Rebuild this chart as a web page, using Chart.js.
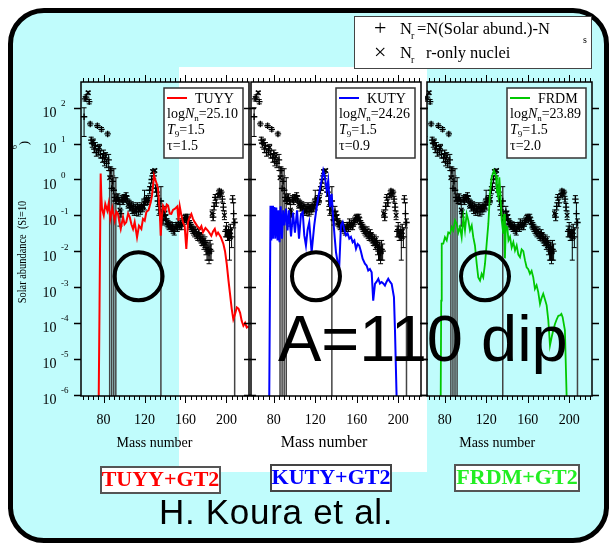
<!DOCTYPE html>
<html>
<head>
<meta charset="utf-8">
<title>Solar r-process abundances and r-process calculations</title>
<script src="https://cdn.jsdelivr.net/npm/chart.js@4.4.1/dist/chart.umd.min.js"></script>
<style>
  html, body { margin: 0; padding: 0; background: #fff; }
  #stage { position: relative; width: 609px; height: 544px; overflow: hidden; background: #fff; }
  #frame { position: absolute; left: 8px; top: 8px; width: 601px; height: 535px; box-sizing: border-box;
           border: 5px solid #000; border-radius: 36px; background: #c0fcfc; }
  #sheet { position: absolute; left: 179px; top: 67px; width: 248px; height: 405px; background: #fff; }
  #stage canvas { position: absolute; left: 0; top: 0; }
  #overlay { position: absolute; left: 0; top: 0; width: 609px; height: 544px; }
  .txt { position: absolute; white-space: nowrap; }
  .box { position: absolute; box-sizing: border-box; background: #fff; }
</style>
</head>
<body>
<div id="stage">
  <div id="frame"></div>
  <div id="sheet"></div>
  <canvas id="p1" width="609" height="544"></canvas>
  <canvas id="p2" width="609" height="544"></canvas>
  <canvas id="p3" width="609" height="544"></canvas>
  <div id="overlay"></div>
</div>
<script>
// ---- solar r-process residuals (Si = 10^6), log10 values with error bars in dex ----
const massNumbers = [61, 62, 63, 65, 66, 67, 68, 69, 70, 71,
  72, 73, 74, 75, 76, 77, 78, 79, 80, 81,
  82, 83, 84, 85, 86, 87, 88, 89, 90, 91,
  92, 93, 94, 95, 96, 97, 98, 99, 100, 101,
  102, 103, 104, 105, 106, 107, 108, 109, 110, 111,
  112, 113, 114, 115, 116, 117, 118, 119, 120, 121,
  122, 123, 124, 125, 126, 127, 128, 129, 130, 131,
  132, 133, 134, 135, 136, 137, 138, 139, 140, 141,
  142, 143, 144, 145, 146, 147, 148, 149, 150, 151,
  152, 153, 154, 155, 156, 157, 158, 159, 160, 161,
  162, 163, 164, 165, 166, 167, 168, 169, 170, 171,
  172, 173, 174, 175, 176, 177, 178, 179, 180, 181,
  182, 183, 184, 185, 186, 187, 188, 189, 190,
  192, 193, 194, 195, 196, 197, 198, 199, 200, 201,
  202, 203, 204, 205, 206, 207, 208];
const solarLog = [1.75, 2.25, 2.3, 2.42, 2.17, 1.55, 1.1, 1.0, 1.05, 0.85,
  0.95, 0.75, 1.5, 0.8, 0.9, 0.7, 1.4, 0.6, 0.72, 0.5,
  0.65, 0.45, 1.27, 0.55, 0.05, 0.25, -0.25, -0.05, -0.3, -0.5,
  -0.6, -0.55, -0.5, -0.6, -0.85, -0.95, -0.55, -0.6, -0.5, -0.55,
  -0.45, -0.55, -0.7, -0.68, -0.78, -0.72, -0.85, -0.75, -0.9, -0.8,
  -0.88, -0.75, -0.9, -0.8, -0.85, -0.75, -0.8, -0.7, -0.55, -0.62,
  -0.55, -0.6, -0.55, -0.3, -0.2, 0.0, 0.22, 0.1, 0.25, -0.25,
  -0.35, -0.6, -0.85, -0.75, -0.6, -1.0, -1.15, -0.9, -1.0, -1.1,
  -1.2, -1.25, -1.3, -1.28, -1.35, -1.3, -1.4, -1.45, -1.35, -1.3,
  -1.35, -1.2, -1.3, -1.25, -1.3, -1.2, -1.15, -1.1, -1.05, -1.1,
  -1.05, -1.15, -1.25, -1.3, -1.35, -1.4, -1.45, -1.5, -1.42, -1.55,
  -1.6, -1.5, -1.6, -1.65, -1.72, -1.7, -1.8, -1.75, -1.9, -2.0,
  -1.95, -2.05, -1.95, -2.0, -0.95, -1.05, -0.75, -0.5, -0.65,
  -0.45, -0.32, -0.4, -0.35, -0.55, -0.77, -1.0, -1.45, -1.4, -1.55,
  -1.5, -1.6, -1.45, -1.6, -0.55, -0.95, -1.2];
// lower error in dex; null = lower bound reaches zero (bar runs off the axis)
const errDown = [0.55, 0.06, 0.06, 0.04, 0.06, 0.05, 0.08, 0.1, 0.08, 0.1,
  0.08, 0.1, 0.05, 0.12, 0.08, 0.1, 0.05, 0.12, 0.1, 0.12,
  0.1, 0.12, 0.05, 0.3, null, 0.15, null, 0.2, null, 0.1,
  null, 0.12, 0.1, 0.1, 0.45, 0.1, 0.1, 0.1, 0.08, 0.08,
  0.08, 0.08, 0.1, 0.1, 0.1, 0.1, 0.1, 0.1, 0.1, 0.1,
  0.12, 0.1, 0.12, 0.1, 0.12, 0.1, 0.1, 0.1, 0.3, 0.1,
  0.1, 0.1, 0.1, 0.1, 0.1, 0.1, 0.05, 0.08, 0.04, 0.1,
  0.12, 0.15, 0.15, 0.2, null, 0.12, 0.12, 0.15, 0.12, 0.12,
  0.1, 0.1, 0.1, 0.1, 0.1, 0.1, 0.1, 0.1, 0.1, 0.1,
  0.1, 0.1, 0.1, 0.1, 0.1, 0.1, 0.1, 0.1, 0.08, 0.08,
  0.08, 0.08, 0.1, 0.1, 0.1, 0.1, 0.1, 0.1, 0.1, 0.1,
  0.1, 0.1, 0.12, 0.12, 0.12, 0.15, 0.15, 0.15, 0.2, 0.25,
  0.3, 0.3, 0.3, 0.25, 0.1, 0.1, 0.1, 0.08, 0.1,
  0.06, 0.05, 0.05, 0.05, 0.08, 0.1, 0.12, 0.15, 0.2, 0.15,
  0.2, 0.65, 0.2, 0.3, 0.1, 0.4, null];
const errUp = [0.25, 0.06, 0.06, 0.04, 0.06, 0.05, 0.08, 0.1, 0.08, 0.1,
  0.08, 0.1, 0.05, 0.12, 0.08, 0.1, 0.05, 0.12, 0.1, 0.12,
  0.1, 0.12, 0.05, 0.15, 0.3, 0.1, 0.55, 0.15, 0.6, 0.1,
  0.65, 0.12, 0.1, 0.1, 0.3, 0.1, 0.1, 0.1, 0.08, 0.08,
  0.08, 0.08, 0.1, 0.1, 0.1, 0.1, 0.1, 0.1, 0.1, 0.1,
  0.12, 0.1, 0.12, 0.1, 0.12, 0.1, 0.1, 0.1, 0.25, 0.1,
  0.1, 0.1, 0.1, 0.1, 0.1, 0.1, 0.05, 0.08, 0.04, 0.1,
  0.12, 0.15, 0.15, 0.15, 0.4, 0.12, 0.12, 0.15, 0.12, 0.12,
  0.1, 0.1, 0.1, 0.1, 0.1, 0.1, 0.1, 0.1, 0.1, 0.1,
  0.1, 0.1, 0.1, 0.1, 0.1, 0.1, 0.1, 0.1, 0.08, 0.08,
  0.08, 0.08, 0.1, 0.1, 0.1, 0.1, 0.1, 0.1, 0.1, 0.1,
  0.1, 0.1, 0.12, 0.12, 0.12, 0.15, 0.15, 0.15, 0.2, 0.2,
  0.2, 0.2, 0.25, 0.2, 0.1, 0.1, 0.1, 0.08, 0.1,
  0.06, 0.05, 0.05, 0.05, 0.08, 0.1, 0.12, 0.15, 0.2, 0.15,
  0.2, 0.2, 0.2, 0.25, 0.1, 0.3, 0.1];
// r-only nuclei (plotted with x)
const rOnlyMass = [65, 70, 76, 82, 86, 96, 104, 110, 116, 122, 124, 128, 130, 142, 148, 150, 154, 160, 170, 176, 186, 192, 198, 204];

// ---- r-process calculations (log10 abundance vs mass number) ----
const tuyyA = [75.3, 76.1, 77.2, 77.8, 78.5, 80.2, 81.7, 83.7, 85.0, 86.6,
  88.5, 90.9, 92.5, 94.1, 95.5, 96.8, 99.0, 100.5, 102.2, 104.0,
  105.6, 107.2, 108.8, 110.4, 112.7, 114.6, 116.9, 118.5, 120.2, 121.8,
  124.0, 126.1, 127.3, 129.3, 130.5, 131.9, 133.2, 134.9, 135.8, 137.0,
  138.1, 140.3, 141.7, 143.0, 144.6, 146.2, 147.8, 149.5, 152.0, 153.2,
  154.4, 156.0, 157.6, 159.2, 160.8, 162.5, 164.0, 165.7, 167.3, 169.0,
  171.5, 173.9, 175.5, 177.1, 179.5, 182.0, 183.6, 185.2, 186.9, 188.6,
  190.2, 191.8, 194.4, 197.0, 198.6, 200.3, 201.9, 203.5, 205.1, 206.7,
  208.4, 210.1, 211.7, 213.3, 214.9, 216.5, 218.2, 219.8, 221.5];
const tuyyLog = [-6.1, -3.5, 0.17, -0.45, -0.81, -1.0, -0.68, -0.87, -0.67, -1.09,
  -0.8, -1.15, -0.9, -0.96, -1.2, -1.38, -1.05, -1.25, -1.19, -0.95,
  -1.05, -1.25, -1.38, -1.19, -1.61, -1.29, -1.38, -1.1, -1.15, -0.91,
  -0.85, -0.63, -0.45, 0.11, 0.0, -0.12, -0.26, -0.91, -1.57, -1.0,
  -0.73, -0.87, -0.7, -0.73, -0.95, -0.96, -0.85, -0.82, -0.75, -1.15,
  -0.75, -1.0, -1.2, -1.3, -1.94, -1.19, -1.05, -0.96, -1.1, -1.19,
  -1.3, -1.38, -1.3, -1.47, -1.35, -1.43, -1.5, -1.57, -1.45, -1.38,
  -1.55, -1.48, -1.6, -1.8, -2.0, -2.36, -2.8, -3.2, -3.6, -3.9,
  -3.75, -3.57, -3.6, -3.72, -3.95, -4.08, -4.0, -4.13, -4.1];

const kutyA = [75.6, 76.8, 77.6, 78.3, 79.2, 80.5, 81.4, 82.4, 83.6, 84.5,
  85.5, 86.6, 87.9, 89.1, 90.3, 91.8, 93.2, 94.6, 96.6, 98.5,
  100.4, 102.4, 104.3, 106.2, 107.9, 109.4, 111.0, 112.6, 114.2, 116.5,
  119.0, 120.7, 122.3, 123.9, 126.5, 127.7, 129.4, 131.0, 132.5, 134.2,
  135.8, 137.4, 138.7, 140.0, 141.6, 143.1, 144.8, 146.4, 148.0, 149.6,
  151.2, 152.8, 154.4, 156.1, 157.7, 159.3, 160.9, 162.4, 164.0, 165.7,
  167.9, 169.5, 171.1, 172.7, 174.4, 175.9, 177.6, 179.2, 180.8, 182.4,
  184.0, 185.6, 187.2, 188.8, 190.4, 192.0, 193.7, 195.9, 196.9, 198.5];
const kutyLog = [-6.1, -0.73, -1.7, -0.73, -1.65, -0.77, -1.65, -0.78, -1.7, -0.86,
  -1.75, -0.75, -1.65, -0.86, -1.28, -0.81, -1.42, -0.86, -1.59, -0.92,
  -1.48, -0.86, -1.65, -0.98, -0.91, -1.56, -1.84, -1.4, -1.19, -2.03,
  -1.28, -0.91, -0.6, -0.35, 0.03, 0.25, 0.06, -0.31, -0.03, -0.77,
  -0.4, -1.14, -1.6, -2.03, -2.31, -2.45, -1.28, -1.19, -1.4, -1.56,
  -1.5, -1.65, -1.6, -1.75, -1.7, -1.93, -1.8, -1.84, -2.0, -2.21,
  -2.35, -2.4, -2.54, -2.5, -2.59, -3.38, -2.91, -2.85, -2.77, -2.9,
  -2.86, -2.9, -2.96, -2.85, -2.77, -2.85, -2.91, -3.28, -4.21, -6.1];

const frdmA = [76.2, 76.7, 77.2, 78.7, 80.3, 82.0, 83.5, 85.2, 86.8, 88.3,
  90.0, 91.6, 93.2, 94.8, 96.4, 98.0, 99.6, 101.2, 102.8, 104.4,
  106.1, 107.6, 109.2, 110.9, 112.4, 114.1, 115.7, 117.2, 118.9, 120.5,
  122.1, 123.7, 125.3, 127.5, 129.5, 130.4, 131.7, 132.7, 133.8, 135.0,
  136.5, 137.3, 138.1, 139.0, 140.4, 141.5, 143.0, 144.6, 146.2, 147.8,
  149.4, 151.0, 152.6, 154.2, 155.8, 157.4, 159.0, 160.6, 162.2, 163.8,
  165.4, 167.0, 168.6, 170.2, 171.9, 173.5, 175.0, 176.7, 178.3, 179.9,
  181.5, 183.1, 184.7, 186.3, 188.0, 189.6, 191.1, 192.5, 193.7, 195.9, 197.6];
const frdmLog = [-6.1, -3.38, -1.79, -1.79, -1.61, -1.7, -1.48, -1.51, -1.33, -1.42,
  -1.14, -1.24, -1.48, -1.33, -1.61, -1.05, -1.42, -0.96, -1.14, -1.42,
  -1.28, -1.61, -1.84, -2.35, -2.73, -2.82, -2.63, -2.73, -2.35, -1.79,
  -1.24, -0.4, 0.06, 0.25, 0.11, -0.31, -0.49, 0.06, -0.45, -1.14,
  -1.51, -0.96, -2.2, -1.3, -1.33, -1.7, -1.6, -1.9, -1.75, -1.98,
  -1.84, -2.1, -2.17, -1.95, -2.0, -2.25, -2.45, -2.5, -2.63, -2.55,
  -2.73, -3.05, -2.95, -3.14, -3.47, -3.3, -3.19, -3.35, -3.51, -3.93,
  -4.63, -4.4, -4.2, -4.03, -3.9, -3.8, -3.79, -3.75, -3.84, -4.21, -6.1];

// ---- axes ----
const xTickValues = [80, 120, 160, 200];
const yDecades = [-6, -5, -4, -3, -2, -1, 0, 1, 2];
const yLogMin = -6.04, yLogMax = 2.72;

// ---- per-panel parameters (log Nn, T9, tau) and the A=110 region marker ----
const modelNames = ['TUYY', 'KUTY', 'FRDM'];
const logNn = ['25.10', '24.26', '23.89'];
const T9 = ['1.5', '1.5', '1.5'];
const tau = ['1.5', '0.9', '2.0'];
const dipMarkA = [114.2, 120.7, 118.9];
const dipMarkLog = -2.7;

const SERIF = '"Liberation Serif", "Times New Roman", serif';
const SANS = '"Liberation Sans", Arial, sans-serif';
Chart.defaults.font.family = SERIF;

const panels = [
  { id: 'p1', idx: 0, color: '#ff0000', width: 2, A: tuyyA, log: tuyyLog,
    left: 81, right: 249, xMin: 58, xMax: 222, titleSize: 14, titleShift: 6, axisLabels: true },
  { id: 'p2', idx: 1, color: '#0000ff', width: 2, A: kutyA, log: kutyLog,
    left: 251, right: 421, xMin: 58, xMax: 222, titleSize: 16, titleShift: 6, axisLabels: false },
  { id: 'p3', idx: 2, color: '#00c800', width: 1.8, A: frdmA, log: frdmLog,
    left: 427, right: 592, xMin: 63, xMax: 222, titleSize: 14, titleShift: 7, axisLabels: false }
];

function makeDecor(p) {
  return {
    id: 'decor_' + p.id,
    beforeDatasetsDraw(chart) {
      // error bars of the solar residuals
      const { ctx, chartArea: a, scales: { x, y } } = chart;
      ctx.save();
      ctx.beginPath();
      ctx.rect(a.left, a.top, a.right - a.left, a.bottom - a.top);
      ctx.clip();
      massNumbers.forEach((m, i) => {
        const px = x.getPixelForValue(m);
        const top = y.getPixelForValue(10 ** (solarLog[i] + errUp[i]));
        const open = errDown[i] === null;
        const bot = open ? a.bottom : y.getPixelForValue(10 ** (solarLog[i] - errDown[i]));
        ctx.strokeStyle = open ? '#444' : '#000';
        ctx.lineWidth = open ? 1.5 : 1;
        ctx.beginPath(); ctx.moveTo(px, bot); ctx.lineTo(px, top); ctx.stroke();
        ctx.strokeStyle = '#000'; ctx.lineWidth = 1;
        ctx.beginPath();
        ctx.moveTo(px - 2.5, top); ctx.lineTo(px + 2.5, top);
        if (!open) { ctx.moveTo(px - 2.5, bot); ctx.lineTo(px + 2.5, bot); }
        ctx.stroke();
      });
      ctx.restore();
    },
    afterDatasetsDraw(chart) {
      const { ctx, chartArea: a, scales: { x, y } } = chart;
      ctx.save();
      // frame
      ctx.strokeStyle = '#000'; ctx.lineWidth = 1.5;
      ctx.strokeRect(a.left, a.top, a.right - a.left, a.bottom - a.top);
      // x ticks, top and bottom, pointing outwards
      ctx.lineWidth = 1;
      ctx.beginPath();
      for (let v = Math.ceil(x.min / 5) * 5; v <= x.max; v += 5) {
        const px = Math.round(x.getPixelForValue(v)) + 0.5;
        const len = v % 40 === 0 ? 7 : 4;
        ctx.moveTo(px, a.bottom); ctx.lineTo(px, a.bottom + len);
        ctx.moveTo(px, a.top); ctx.lineTo(px, a.top - len);
      }
      ctx.stroke();
      // y ticks at the decades, both sides
      ctx.lineWidth = 1.5;
      ctx.beginPath();
      yDecades.forEach(k => {
        const py = Math.round(y.getPixelForValue(10 ** k)) + 0.5;
        ctx.moveTo(a.left - 7, py); ctx.lineTo(a.left, py);
        ctx.moveTo(a.right, py); ctx.lineTo(a.right + 7, py);
      });
      ctx.stroke();

      ctx.fillStyle = '#000';
      ctx.textAlign = 'left';
      ctx.textBaseline = 'alphabetic';
      if (p.axisLabels) {
        yDecades.forEach(k => {
          const py = y.getPixelForValue(10 ** k);
          ctx.font = `14px ${SERIF}`;
          ctx.fillText('10', a.left - 38.5, py + 9.5);
          ctx.font = `9px ${SERIF}`;
          ctx.fillText(String(k), a.left - 20, py - 1.5);
        });
        // rotated axis title
        ctx.save();
        ctx.translate(a.left - 58, 252);
        ctx.rotate(-Math.PI / 2);
        ctx.scale(0.8, 1);
        ctx.font = `13px ${SERIF}`;
        ctx.textAlign = 'center'; ctx.textBaseline = 'middle';
        ctx.fillText('Solar abundance  (Si=10', 0, 0);
        ctx.restore();
        ctx.save();
        ctx.translate(a.left - 66, 147); ctx.rotate(-Math.PI / 2);
        ctx.font = `8px ${SERIF}`; ctx.textAlign = 'center'; ctx.textBaseline = 'middle';
        ctx.fillText('6', 0, 0);
        ctx.restore();
        ctx.save();
        ctx.translate(a.left - 56, 143); ctx.rotate(-Math.PI / 2);
        ctx.font = `13px ${SERIF}`; ctx.textAlign = 'center'; ctx.textBaseline = 'middle';
        ctx.fillText(')', 0, 0);
        ctx.restore();
      }

      // model legend box
      const bw = 79, bh = 70;
      const bx = a.right - 6 - bw, by = a.top + 6;
      ctx.fillStyle = '#fff'; ctx.fillRect(bx, by, bw, bh);
      ctx.strokeStyle = '#333'; ctx.lineWidth = 1.5; ctx.strokeRect(bx, by, bw, bh);
      ctx.strokeStyle = p.color; ctx.lineWidth = 2;
      ctx.beginPath(); ctx.moveTo(bx + 3, by + 10); ctx.lineTo(bx + 23, by + 10); ctx.stroke();
      ctx.fillStyle = '#000';
      ctx.font = `14px ${SERIF}`;
      ctx.fillText(modelNames[p.idx], bx + 31, by + 15);
      const row = (parts, base) => {
        let cx = bx + 3;
        parts.forEach(([txt, font, dy]) => {
          ctx.font = font;
          ctx.fillText(txt, cx, base + dy);
          cx += ctx.measureText(txt).width;
        });
      };
      const f = `14px ${SERIF}`, fi = `italic 14px ${SERIF}`, fs = `9px ${SERIF}`;
      row([['log', f, 0], ['N', fi, 0], ['n', fs, 3], ['=' + logNn[p.idx], f, 0]], by + 30);
      row([['T', fi, 0], ['9', fs, 3], ['=' + T9[p.idx], f, 0]], by + 46);
      row([['\u03C4=' + tau[p.idx], f, 0]], by + 62);

      // circle around the A=110 region
      ctx.strokeStyle = '#000'; ctx.lineWidth = 4;
      ctx.beginPath();
      ctx.arc(x.getPixelForValue(dipMarkA[p.idx]), y.getPixelForValue(10 ** dipMarkLog), 24, 0, Math.PI * 2);
      ctx.stroke();
      ctx.restore();
    }
  };
}

function buildPanel(p) {
  const solar = massNumbers.map((m, i) => ({ x: m, y: 10 ** solarLog[i] }));
  const resid = solar.filter(pt => !rOnlyMass.includes(pt.x));
  const ronly = solar.filter(pt => rOnlyMass.includes(pt.x));
  const model = p.A.map((m, i) => ({ x: m, y: 10 ** p.log[i] }));
  return new Chart(document.getElementById(p.id), {
    type: 'scatter',
    data: {
      datasets: [
        { label: modelNames[p.idx], data: model, showLine: true, borderColor: p.color,
          borderWidth: p.width, pointRadius: 0, tension: 0, order: 0, clip: 0 },
        { label: 'Nr', data: resid, pointStyle: 'cross', pointRadius: 3.2,
          borderColor: '#000', backgroundColor: '#000', borderWidth: 1.3, order: 1, clip: 2 },
        { label: 'Nr r-only', data: ronly, pointStyle: 'crossRot', pointRadius: 3.2,
          borderColor: '#000', backgroundColor: '#000', borderWidth: 1.3, order: 1, clip: 2 }
      ]
    },
    options: {
      responsive: false,
      animation: false,
      devicePixelRatio: 1,
      events: [],
      layout: { padding: { left: p.left, right: 609 - p.right, top: 82, bottom: 88 } },
      plugins: { legend: { display: false }, tooltip: { enabled: false } },
      scales: {
        x: {
          type: 'linear', min: p.xMin, max: p.xMax,
          grid: { display: false, drawTicks: false },
          border: { display: false },
          afterBuildTicks: s => { s.ticks = xTickValues.map(v => ({ value: v })); },
          afterFit: s => { s.height = 60; },
          ticks: { padding: 16, color: '#000', autoSkip: false, maxRotation: 0,
                   font: { family: SERIF, size: 14 }, callback: v => String(v) },
          title: { display: true, text: 'Mass number' + ' '.repeat(p.titleShift), color: '#000',
                   font: { family: SERIF, size: p.titleSize, lineHeight: 1.2 },
                   padding: { top: 0, bottom: 13 - p.titleSize * 0.6 } }
        },
        y: { type: 'logarithmic', display: false, min: 10 ** yLogMin, max: 10 ** yLogMax }
      }
    },
    plugins: [makeDecor(p)]
  });
}
panels.forEach(buildPanel);

// ---- text and boxes drawn over the panels ----
const overlay = document.getElementById('overlay');
function putText(text, x, baseline, size, o = {}) {
  const el = document.createElement('div');
  el.className = 'txt';
  el.textContent = text;
  el.style.font = `${o.bold ? 'bold ' : ''}${size}px ${o.sans ? SANS : SERIF}`;
  el.style.lineHeight = size + 'px';
  el.style.color = o.color || '#000';
  el.style.left = x + 'px';
  el.style.top = (baseline - (o.sans ? 0.8465 : 0.8375) * size) + 'px';
  if (o.center) el.style.transform = 'translateX(-50%)';
  if (o.spacing) el.style.letterSpacing = o.spacing + 'px';
  overlay.appendChild(el);
}
function putBox(x, y, w, h, border) {
  const el = document.createElement('div');
  el.className = 'box';
  Object.assign(el.style, { left: x + 'px', top: y + 'px', width: w + 'px', height: h + 'px', border });
  overlay.appendChild(el);
}

// legend of the data symbols
putBox(354, 16, 238, 53, '1.5px solid #444');
putText('+', 374, 35, 22);
putText('N', 400, 35, 16.5);
putText('r', 411, 39.5, 10);
putText('=N(Solar abund.)-N', 417, 35, 16.5);
putText('s', 583, 43, 10);
putText('\u00D7', 374, 59, 22);
putText('N', 400, 59, 16.5);
putText('r', 411, 63.5, 10);
putText('r-only nuclei', 426, 59, 16.5);

// model + beta-decay labels
putBox(100, 466, 121, 28, '2px solid #555');
putText('TUYY+GT2', 160.5, 486, 22, { bold: true, color: '#ff0000', center: true });
putBox(270, 464, 122, 28, '2px solid #444');
putText('KUTY+GT2', 331, 484, 22, { bold: true, color: '#0000ff', center: true });
putBox(454, 464, 126, 28, '2px solid #555');
putText('FRDM+GT2', 517, 484, 22, { bold: true, color: '#22ee22', center: true });

putText('A=110 dip', 278, 361, 65, { sans: true });
putText('H. Koura et al.', 159, 524, 35, { sans: true, spacing: 0.7 });
</script>
</body>
</html>
